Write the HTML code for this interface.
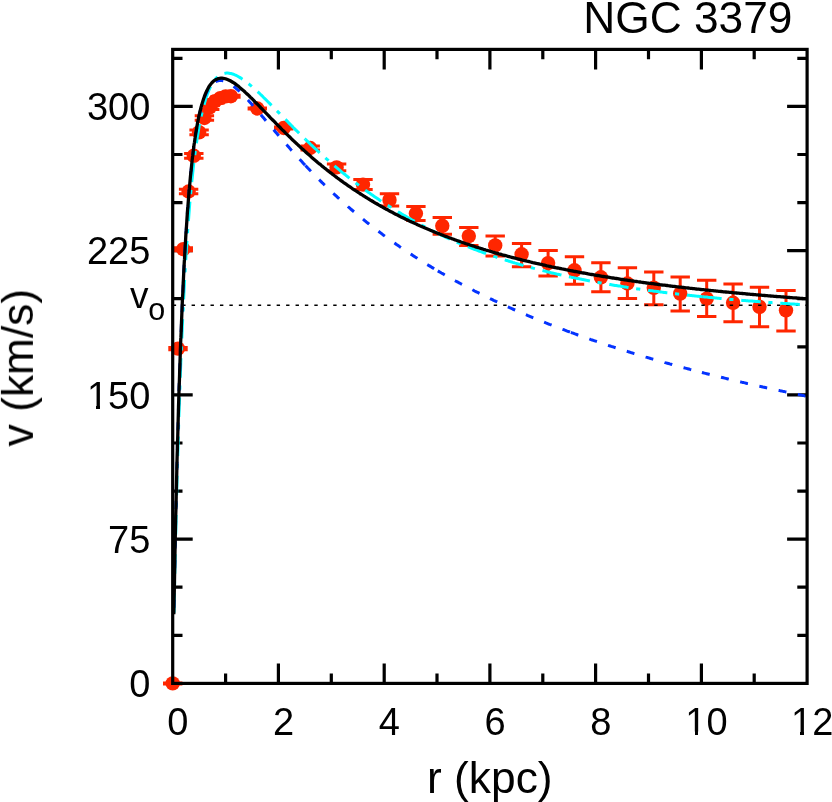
<!DOCTYPE html>
<html><head><meta charset="utf-8"><title>NGC 3379</title>
<style>html,body{margin:0;padding:0;background:#fff;}body{width:832px;height:802px;overflow:hidden;font-family:"Liberation Sans",sans-serif;}svg{display:block;}</style>
</head><body>
<svg width="832" height="802" viewBox="0 0 832 802">
<rect width="832" height="802" fill="#fff"/>
<path d="M225.6,683.4v-9.8M225.6,49.4v9.8M278.4,683.4v-20.0M278.4,49.4v20.0M331.3,683.4v-9.8M331.3,49.4v9.8M384.2,683.4v-20.0M384.2,49.4v20.0M437.0,683.4v-9.8M437.0,49.4v9.8M489.9,683.4v-20.0M489.9,49.4v20.0M542.8,683.4v-9.8M542.8,49.4v9.8M595.6,683.4v-20.0M595.6,49.4v20.0M648.5,683.4v-9.8M648.5,49.4v9.8M701.4,683.4v-20.0M701.4,49.4v20.0M754.2,683.4v-9.8M754.2,49.4v9.8M172.7,635.3h9.8M807.1,635.3h-9.8M172.7,587.2h9.8M807.1,587.2h-9.8M172.7,539.1h20.0M807.1,539.1h-20.0M172.7,491.1h9.8M807.1,491.1h-9.8M172.7,443.0h9.8M807.1,443.0h-9.8M172.7,394.9h20.0M807.1,394.9h-20.0M172.7,346.8h9.8M807.1,346.8h-9.8M172.7,298.7h9.8M807.1,298.7h-9.8M172.7,250.6h20.0M807.1,250.6h-20.0M172.7,202.6h9.8M807.1,202.6h-9.8M172.7,154.5h9.8M807.1,154.5h-9.8M172.7,106.4h20.0M807.1,106.4h-20.0M172.7,58.3h9.8M807.1,58.3h-9.8" stroke="#000" stroke-width="3.2" fill="none"/>
<g stroke="#ff2600" stroke-width="3" fill="#ff2600">
<path d="M172.7,682.9V683.9M163.0,682.9H182.4M163.0,683.9H182.4"/>
<circle cx="172.7" cy="683.4" r="7.2" stroke="none"/>
<path d="M178.0,347.4V349.8M168.3,347.4H187.7M168.3,349.8H187.7"/>
<circle cx="178.0" cy="348.6" r="7.2" stroke="none"/>
<path d="M183.3,247.7V250.7M173.6,247.7H193.0M173.6,250.7H193.0"/>
<circle cx="183.3" cy="249.2" r="7.2" stroke="none"/>
<path d="M188.6,189.3V193.7M178.9,189.3H198.3M178.9,193.7H198.3"/>
<circle cx="188.6" cy="191.5" r="7.2" stroke="none"/>
<path d="M193.8,153.4V158.2M184.1,153.4H203.5M184.1,158.2H203.5"/>
<circle cx="193.8" cy="155.8" r="7.2" stroke="none"/>
<path d="M199.1,129.9V134.7M189.4,129.9H208.8M189.4,134.7H208.8"/>
<circle cx="199.1" cy="132.3" r="7.2" stroke="none"/>
<path d="M204.4,115.7V120.3M194.7,115.7H214.1M194.7,120.3H214.1"/>
<circle cx="204.4" cy="118.0" r="7.2" stroke="none"/>
<path d="M209.7,105.4V109.4M200.0,105.4H219.4M200.0,109.4H219.4"/>
<circle cx="209.7" cy="107.4" r="7.2" stroke="none"/>
<path d="M215.0,99.4V103.0M205.3,99.4H224.7M205.3,103.0H224.7"/>
<circle cx="215.0" cy="101.2" r="7.2" stroke="none"/>
<path d="M220.3,96.6V99.6M210.6,96.6H230.0M210.6,99.6H230.0"/>
<circle cx="220.3" cy="98.1" r="7.2" stroke="none"/>
<path d="M225.6,95.2V97.6M215.9,95.2H235.3M215.9,97.6H235.3"/>
<circle cx="225.6" cy="96.4" r="7.2" stroke="none"/>
<path d="M230.9,95.2V97.2M221.2,95.2H240.6M221.2,97.2H240.6"/>
<circle cx="230.9" cy="96.2" r="7.2" stroke="none"/>
<path d="M257.3,108.1V108.9M247.6,108.1H267.0M247.6,108.9H267.0"/>
<circle cx="257.3" cy="108.5" r="7.2" stroke="none"/>
<path d="M283.7,127.0V129.0M274.0,127.0H293.4M274.0,129.0H293.4"/>
<circle cx="283.7" cy="128.0" r="7.2" stroke="none"/>
<path d="M310.2,145.9V150.1M300.5,145.9H319.9M300.5,150.1H319.9"/>
<circle cx="310.2" cy="148.0" r="7.2" stroke="none"/>
<path d="M336.6,164.0V170.8M326.9,164.0H346.3M326.9,170.8H346.3"/>
<circle cx="336.6" cy="167.4" r="7.2" stroke="none"/>
<path d="M363.0,179.5V189.6M353.3,179.5H372.7M353.3,189.6H372.7"/>
<circle cx="363.0" cy="184.6" r="7.2" stroke="none"/>
<path d="M389.5,193.8V206.0M379.8,193.8H399.2M379.8,206.0H399.2"/>
<circle cx="389.5" cy="199.9" r="7.2" stroke="none"/>
<path d="M415.9,206.5V220.4M406.2,206.5H425.6M406.2,220.4H425.6"/>
<circle cx="415.9" cy="213.5" r="7.2" stroke="none"/>
<path d="M442.3,217.4V234.2M432.6,217.4H452.0M432.6,234.2H452.0"/>
<circle cx="442.3" cy="225.8" r="7.2" stroke="none"/>
<path d="M468.8,227.4V245.4M459.1,227.4H478.5M459.1,245.4H478.5"/>
<circle cx="468.8" cy="236.1" r="7.2" stroke="none"/>
<path d="M495.2,236.1V256.1M485.5,236.1H504.9M485.5,256.1H504.9"/>
<circle cx="495.2" cy="245.4" r="7.2" stroke="none"/>
<path d="M521.6,243.6V266.8M511.9,243.6H531.3M511.9,266.8H531.3"/>
<circle cx="521.6" cy="254.3" r="7.2" stroke="none"/>
<path d="M548.1,250.6V276.0M538.4,250.6H557.8M538.4,276.0H557.8"/>
<circle cx="548.1" cy="263.1" r="7.2" stroke="none"/>
<path d="M574.5,256.8V284.3M564.8,256.8H584.2M564.8,284.3H584.2"/>
<circle cx="574.5" cy="270.3" r="7.2" stroke="none"/>
<path d="M600.9,262.8V291.7M591.2,262.8H610.6M591.2,291.7H610.6"/>
<circle cx="600.9" cy="277.3" r="7.2" stroke="none"/>
<path d="M627.4,267.8V298.5M617.7,267.8H637.1M617.7,298.5H637.1"/>
<circle cx="627.4" cy="283.5" r="7.2" stroke="none"/>
<path d="M653.8,271.9V304.8M644.1,271.9H663.5M644.1,304.8H663.5"/>
<circle cx="653.8" cy="287.8" r="7.2" stroke="none"/>
<path d="M680.2,276.9V311.0M670.5,276.9H689.9M670.5,311.0H689.9"/>
<circle cx="680.2" cy="293.6" r="7.2" stroke="none"/>
<path d="M706.7,280.3V316.5M697.0,280.3H716.4M697.0,316.5H716.4"/>
<circle cx="706.7" cy="298.6" r="7.2" stroke="none"/>
<path d="M733.1,284.1V321.7M723.4,284.1H742.8M723.4,321.7H742.8"/>
<circle cx="733.1" cy="302.8" r="7.2" stroke="none"/>
<path d="M759.5,287.3V326.7M749.8,287.3H769.2M749.8,326.7H769.2"/>
<circle cx="759.5" cy="306.8" r="7.2" stroke="none"/>
<path d="M786.0,290.6V331.0M776.3,290.6H795.7M776.3,331.0H795.7"/>
<circle cx="786.0" cy="310.3" r="7.2" stroke="none"/>
</g>
<path d="M172.70,305.2H304.87M304.87,305.2H437.03M437.03,305.2H569.20M569.20,305.2H701.37M701.37,305.2H807.10" stroke="#000" stroke-width="1.6" stroke-dasharray="3.4 6.05" fill="none"/>
<g fill="none" stroke-linejoin="round">
<path d="M174.0,614.6 L174.2,604.0 L174.4,593.6 L174.6,583.4 L174.8,573.4 L175.0,563.7 L175.2,557.4 L175.2,554.2 L175.4,544.8 L175.7,535.7 L175.9,526.8 L176.1,518.0 L176.3,509.5 L176.3,506.9 L176.5,501.1 L176.7,492.9 L176.9,484.9 L177.1,477.0 L177.3,469.3 L177.5,462.1 L177.6,461.8 L177.8,454.4 L178.0,447.2 L178.2,440.1 L178.4,433.2 L178.6,426.4 L178.7,422.3 L178.8,419.7 L179.0,413.2 L179.2,406.8 L179.5,400.5 L179.7,394.4 L179.9,388.4 L179.9,386.8 L180.1,382.5 L180.3,376.7 L180.5,371.0 L180.7,365.4 L180.9,360.0 L181.1,355.1 L181.2,354.6 L181.4,349.4 L181.6,344.2 L181.8,339.2 L182.0,334.3 L182.2,329.4 L182.3,326.7 L182.4,324.6 L182.6,320.0 L182.8,315.4 L183.1,310.9 L183.3,306.5 L183.5,302.1 L183.5,301.2 L183.7,297.9 L183.9,293.7 L184.1,289.6 L184.3,285.6 L184.5,281.6 L184.7,278.2 L184.7,277.8 L185.0,274.0 L185.2,270.2 L185.4,266.6 L185.6,263.0 L185.8,259.4 L185.9,257.6 L186.0,256.0 L186.2,252.6 L186.4,249.2 L186.7,245.9 L186.9,242.7 L187.1,239.5 L187.1,239.0 L187.3,236.4 L187.5,233.4 L187.7,230.4 L187.9,227.4 L188.1,224.5 L188.3,222.2 L188.3,221.7 L188.6,218.9 L188.8,216.1 L189.0,213.4 L189.2,210.8 L189.4,208.2 L189.5,207.0 L189.6,205.6 L189.8,203.1 L190.0,200.7 L190.2,198.2 L190.5,195.9 L190.7,193.5 L190.7,193.2 L190.9,191.2 L191.1,188.9 L191.3,186.7 L191.5,184.5 L191.7,182.4 L191.9,180.7 L191.9,180.3 L192.2,178.2 L192.4,176.2 L192.6,174.2 L192.8,172.2 L193.0,170.3 L193.1,169.4 L193.2,168.4 L193.4,166.5 L193.6,164.7 L193.8,162.9 L194.1,161.1 L194.3,159.4 L194.3,159.2 L194.5,157.7 L194.7,156.0 L194.9,154.3 L195.1,152.7 L195.3,151.1 L195.5,149.9 L195.5,149.5 L195.7,148.0 L196.0,146.5 L196.2,145.0 L196.4,143.5 L196.6,142.1 L196.7,141.5 L196.8,140.7 L197.0,139.3 L197.2,137.9 L197.4,136.6 L197.7,135.3 L197.9,134.0 L197.9,133.9 L198.1,132.7 L198.3,131.4 L198.5,130.2 L198.7,129.0 L198.9,127.8 L199.1,127.0 L199.1,126.6 L200.3,120.7 L201.5,115.0 L202.7,109.9 L203.9,105.3 L205.1,101.1 L206.2,97.3 L207.4,93.9 L208.6,90.9 L209.8,88.2 L211.0,85.8 L212.2,83.6 L213.4,81.7 L214.6,80.1 L215.8,78.6 L217.0,77.4 L218.2,76.3 L219.4,75.4 L220.6,74.7 L221.8,74.1 L223.0,73.7 L224.2,73.4 L225.4,73.2 L226.6,73.1 L227.8,73.1 L229.0,73.2 L230.2,73.4 L231.4,73.6 L232.6,74.0 L233.8,74.4 L234.9,74.9 L236.1,75.4 L237.3,76.0 L238.5,76.7 L239.7,77.4 L240.9,78.1 L242.1,78.9 L243.3,79.7 L244.5,80.6 L245.7,81.4 L246.9,82.4 L248.1,83.3 L249.3,84.3 L250.5,85.3 L251.7,86.3 L252.9,87.4 L254.1,88.4 L255.3,89.5 L256.5,90.6 L257.7,91.7 L258.9,92.8 L260.1,94.0 L261.3,95.1 L262.5,96.3 L263.6,97.5 L264.8,98.6 L266.0,99.8 L267.2,101.0 L268.4,102.2 L269.6,103.4 L270.8,104.6 L272.0,105.8 L273.2,107.0 L274.4,108.3 L275.6,109.5 L276.8,110.7 L278.0,111.9 L279.2,113.1 L280.4,114.3 L281.6,115.6 L282.8,116.8 L284.0,118.0 L285.2,119.2 L286.4,120.4 L287.6,121.6 L288.8,122.9 L290.0,124.1 L291.2,125.3 L292.3,126.5 L293.5,127.7 L294.7,128.9 L295.9,130.1 L297.1,131.2 L298.3,132.4 L299.5,133.6 L300.7,134.8 L301.9,136.0 L303.1,137.1 L304.3,138.3 L305.5,139.4" stroke="#00fdff" stroke-width="3" stroke-dasharray="19.5 7.7 4.2 7.8" stroke-dashoffset="37.41"/>
<path d="M305.5,139.4 L306.7,140.6 L307.9,141.7 L309.1,142.8 L310.2,144.0 L311.4,145.1 L312.6,146.2 L313.8,147.3 L315.0,148.4 L316.2,149.5 L317.3,150.6 L318.5,151.7 L319.7,152.8 L320.9,153.9 L322.1,154.9 L323.3,156.0 L324.5,157.1 L325.6,158.1 L326.8,159.2 L328.0,160.2 L329.2,161.3 L330.4,162.3 L331.6,163.3 L332.7,164.3 L333.9,165.4 L335.1,166.4 L336.3,167.4 L337.5,168.4 L338.7,169.4 L339.9,170.3 L341.0,171.3 L342.2,172.3 L343.4,173.3 L344.6,174.2 L345.8,175.2 L347.0,176.1 L348.1,177.1 L349.3,178.0 L350.5,178.9 L351.7,179.9 L352.9,180.8 L354.1,181.7 L355.3,182.6 L356.4,183.5 L357.6,184.4 L358.8,185.3 L360.0,186.2 L361.2,187.1 L362.4,188.0 L363.5,188.8 L364.7,189.7 L365.9,190.6 L367.1,191.4 L368.3,192.3 L369.5,193.1 L370.7,193.9 L371.8,194.8 L373.0,195.6 L374.2,196.4 L375.4,197.2 L376.6,198.0 L377.8,198.8 L378.9,199.6 L380.1,200.4 L381.3,201.2 L382.5,202.0 L383.7,202.8 L384.9,203.6 L386.1,204.3 L387.2,205.1 L388.4,205.8 L389.6,206.6 L390.8,207.3 L392.0,208.1 L393.2,208.8 L394.3,209.5 L395.5,210.3 L396.7,211.0 L397.9,211.7 L399.1,212.4 L400.3,213.1 L401.4,213.8 L402.6,214.5 L403.8,215.2 L405.0,215.9 L406.2,216.6 L407.4,217.3 L408.6,218.0 L409.7,218.6 L410.9,219.3 L412.1,220.0 L413.3,220.6 L414.5,221.3 L415.7,221.9 L416.8,222.6 L418.0,223.2 L419.2,223.9 L420.4,224.5 L421.6,225.2 L422.8,225.8 L424.0,226.4 L425.1,227.0 L426.3,227.7 L427.5,228.3 L428.7,228.9 L429.9,229.5 L431.1,230.1 L432.2,230.7 L433.4,231.3 L434.6,231.9 L435.8,232.4 L437.0,233.0 L438.2,233.6 L439.4,234.2 L440.5,234.7 L441.7,235.3 L442.9,235.9 L444.1,236.4 L445.3,237.0 L446.5,237.5 L447.6,238.1 L448.8,238.6 L450.0,239.1 L451.2,239.7 L452.4,240.2 L453.6,240.7 L454.8,241.2 L455.9,241.8 L457.1,242.3 L458.3,242.8 L459.5,243.3 L460.7,243.8 L461.9,244.3 L463.0,244.8 L464.2,245.3 L465.4,245.8 L466.6,246.2 L467.8,246.7 L469.0,247.2 L470.2,247.6 L471.3,248.1 L472.5,248.6 L473.7,249.0 L474.9,249.5 L476.1,249.9 L477.3,250.4 L478.4,250.8 L479.6,251.3 L480.8,251.7 L482.0,252.1 L483.2,252.6 L484.4,253.0 L485.6,253.4 L486.7,253.8 L487.9,254.2 L489.1,254.7 L490.3,255.1 L491.5,255.5 L492.7,255.9 L493.8,256.3 L495.0,256.7 L496.2,257.1 L497.4,257.5 L498.6,257.9 L499.8,258.3 L501.0,258.6 L502.1,259.0 L503.3,259.4 L504.5,259.8 L505.7,260.2 L506.9,260.5 L508.1,260.9 L509.2,261.3 L510.4,261.6 L511.6,262.0 L512.8,262.4 L514.0,262.7 L515.2,263.1 L516.3,263.4 L517.5,263.8 L518.7,264.1 L519.9,264.5 L521.1,264.8 L522.3,265.1 L523.5,265.5 L524.6,265.8 L525.8,266.1 L527.0,266.5 L528.2,266.8 L529.4,267.1 L530.6,267.4 L531.7,267.8 L532.9,268.1 L534.1,268.4 L535.3,268.7 L536.5,269.0 L537.7,269.3 L538.9,269.6 L540.0,269.9 L541.2,270.2 L542.4,270.5 L543.6,270.8 L544.8,271.1 L546.0,271.4 L547.1,271.7 L548.3,272.0 L549.5,272.3 L550.7,272.6 L551.9,272.9 L553.1,273.1 L554.3,273.4 L555.4,273.7 L556.6,274.0 L557.8,274.2 L559.0,274.5 L560.2,274.8 L561.4,275.0 L562.5,275.3 L563.7,275.6 L564.9,275.8 L566.1,276.1 L567.3,276.4 L568.5,276.6 L569.7,276.9 L570.8,277.1" stroke="#00fdff" stroke-width="3" stroke-dasharray="19.5 7.7 4.2 7.8" stroke-dashoffset="0.00"/>
<path d="M570.8,277.1 L572.0,277.4 L573.2,277.6 L574.4,277.9 L575.6,278.1 L576.8,278.4 L578.0,278.6 L579.2,278.8 L580.4,279.1 L581.6,279.3 L582.8,279.6 L584.0,279.8 L585.2,280.0 L586.4,280.3 L587.6,280.5 L588.7,280.7 L589.9,280.9 L591.1,281.2 L592.3,281.4 L593.5,281.6 L594.7,281.8 L595.9,282.1 L597.1,282.3 L598.3,282.5 L599.5,282.7 L600.7,282.9 L601.9,283.1 L603.1,283.3 L604.3,283.6 L605.5,283.8 L606.7,284.0 L607.8,284.2 L609.0,284.4 L610.2,284.6 L611.4,284.8 L612.6,285.0 L613.8,285.2 L615.0,285.4 L616.2,285.6 L617.4,285.8 L618.6,286.0 L619.8,286.1 L621.0,286.3 L622.2,286.5 L623.4,286.7 L624.6,286.9 L625.8,287.1 L626.9,287.3 L628.1,287.4 L629.3,287.6 L630.5,287.8 L631.7,288.0 L632.9,288.2 L634.1,288.3 L635.3,288.5 L636.5,288.7 L637.7,288.9 L638.9,289.0 L640.1,289.2 L641.3,289.4 L642.5,289.5 L643.7,289.7 L644.9,289.9 L646.0,290.0 L647.2,290.2 L648.4,290.4 L649.6,290.5 L650.8,290.7 L652.0,290.8 L653.2,291.0 L654.4,291.2 L655.6,291.3 L656.8,291.5 L658.0,291.6 L659.2,291.8 L660.4,291.9 L661.6,292.1 L662.8,292.2 L664.0,292.4 L665.2,292.5 L666.3,292.7 L667.5,292.8 L668.7,293.0 L669.9,293.1 L671.1,293.2 L672.3,293.4 L673.5,293.5 L674.7,293.7 L675.9,293.8 L677.1,293.9 L678.3,294.1 L679.5,294.2 L680.7,294.4 L681.9,294.5 L683.1,294.6 L684.3,294.8 L685.4,294.9 L686.6,295.0 L687.8,295.2 L689.0,295.3 L690.2,295.4 L691.4,295.5 L692.6,295.7 L693.8,295.8 L695.0,295.9 L696.2,296.1 L697.4,296.2 L698.6,296.3 L699.8,296.4 L701.0,296.5 L702.2,296.7" stroke="#00fdff" stroke-width="3" stroke-dasharray="19.5 7.7 4.2 7.8" stroke-dashoffset="0.00"/>
<path d="M702.2,296.7 L703.4,296.8 L704.5,296.9 L705.7,297.0 L706.9,297.1 L708.1,297.3 L709.3,297.4 L710.5,297.5 L711.7,297.6 L712.9,297.7 L714.1,297.8 L715.3,298.0 L716.5,298.1 L717.7,298.2 L718.9,298.3 L720.0,298.4 L721.2,298.5 L722.4,298.6 L723.6,298.7 L724.8,298.8 L726.0,298.9 L727.2,299.0 L728.4,299.2 L729.6,299.3 L730.8,299.4 L732.0,299.5 L733.2,299.6 L734.4,299.7 L735.5,299.8 L736.7,299.9 L737.9,300.0 L739.1,300.1 L740.3,300.2 L741.5,300.3 L742.7,300.4 L743.9,300.5 L745.1,300.6 L746.3,300.7 L747.5,300.8 L748.7,300.9 L749.9,301.0 L751.1,301.1 L752.2,301.1 L753.4,301.2 L754.6,301.3 L755.8,301.4 L757.0,301.5 L758.2,301.6 L759.4,301.7 L760.6,301.8 L761.8,301.9 L763.0,302.0 L764.2,302.1 L765.4,302.1 L766.6,302.2 L767.7,302.3 L768.9,302.4 L770.1,302.5 L771.3,302.6 L772.5,302.7 L773.7,302.7 L774.9,302.8 L776.1,302.9 L777.3,303.0 L778.5,303.1 L779.7,303.2 L780.9,303.2 L782.1,303.3 L783.2,303.4 L784.4,303.5 L785.6,303.6 L786.8,303.6 L788.0,303.7 L789.2,303.8 L790.4,303.9 L791.6,304.0 L792.8,304.0 L794.0,304.1 L795.2,304.2 L796.4,304.3 L797.6,304.3 L798.8,304.4 L799.9,304.5 L801.1,304.6 L802.3,304.6 L803.5,304.7 L804.7,304.8 L805.9,304.9 L807.1,304.9" stroke="#00fdff" stroke-width="3" stroke-dasharray="19.5 7.7 4.2 7.8" stroke-dashoffset="0.00"/>
<path d="M173.8,614.2 L174.0,602.2 L174.3,590.5 L174.5,579.1 L174.7,567.9 L174.9,557.1 L175.0,550.4 L175.1,546.5 L175.3,536.2 L175.5,526.1 L175.7,516.3 L176.0,506.7 L176.2,497.3 L176.2,495.0 L176.4,488.2 L176.6,479.3 L176.8,470.6 L177.0,462.1 L177.2,453.8 L177.4,446.7 L177.4,445.7 L177.7,437.8 L177.9,430.0 L178.1,422.5 L178.3,415.1 L178.5,407.9 L178.6,404.4 L178.7,400.9 L178.9,394.0 L179.1,387.3 L179.4,380.7 L179.6,374.3 L179.8,368.0 L179.8,367.2 L180.0,361.8 L180.2,355.8 L180.4,349.9 L180.6,344.2 L180.8,338.6 L181.0,334.5 L181.1,333.1 L181.3,327.7 L181.5,322.4 L181.7,317.3 L181.9,312.2 L182.1,307.3 L182.2,305.5 L182.3,302.5 L182.5,297.8 L182.8,293.1 L183.0,288.6 L183.2,284.2 L183.4,279.9 L183.4,279.8 L183.6,275.6 L183.8,271.4 L184.0,267.4 L184.2,263.4 L184.5,259.5 L184.6,257.1 L184.7,255.7 L184.9,251.9 L185.1,248.3 L185.3,244.7 L185.5,241.1 L185.7,237.7 L185.8,236.9 L185.9,234.3 L186.2,231.0 L186.4,227.8 L186.6,224.6 L186.8,221.5 L187.0,218.8 L187.0,218.4 L187.2,215.5 L187.4,212.5 L187.6,209.7 L187.9,206.9 L188.1,204.1 L188.2,202.8 L188.3,201.4 L188.5,198.8 L188.7,196.2 L188.9,193.6 L189.1,191.1 L189.4,188.7 L189.4,188.4 L189.6,186.3 L189.8,184.0 L190.0,181.7 L190.2,179.4 L190.4,177.2 L190.6,175.6 L190.6,175.0 L190.8,172.9 L191.1,170.8 L191.3,168.8 L191.5,166.8 L191.7,164.8 L191.8,164.1 L191.9,162.9 L192.1,161.0 L192.3,159.2 L192.5,157.4 L192.8,155.6 L193.0,153.9 L193.0,153.9 L193.2,152.2 L193.4,150.5 L193.6,148.8 L193.8,147.2 L194.0,145.7 L194.2,144.7 L194.2,144.1 L194.5,142.6 L194.7,141.1 L194.9,139.7 L195.1,138.2 L195.3,136.8 L195.4,136.5 L195.5,135.5 L195.7,134.1 L195.9,132.8 L196.2,131.5 L196.4,130.3 L196.6,129.2 L196.6,129.0 L196.8,127.8 L197.0,126.6 L197.2,125.4 L197.4,124.3 L197.6,123.2 L197.7,122.6 L197.9,122.1 L198.1,121.0 L198.3,119.9 L198.5,118.9 L198.7,117.9 L198.9,116.9 L198.9,116.8 L199.1,115.9 L200.1,111.6 L201.3,107.0 L202.5,102.9 L203.7,99.3 L204.9,96.1 L206.1,93.3 L207.3,90.8 L208.5,88.7 L209.7,86.9 L210.9,85.4 L212.1,84.1 L213.3,83.0 L214.5,82.1 L215.7,81.5 L216.9,81.0 L218.1,80.7 L219.3,80.5 L220.5,80.4 L221.7,80.5 L222.9,80.7 L224.1,81.0 L225.3,81.4 L226.5,81.9 L227.6,82.5 L228.8,83.1 L230.0,83.9 L231.2,84.6 L232.4,85.5 L233.6,86.4 L234.8,87.3 L236.0,88.3 L237.2,89.4 L238.4,90.4 L239.6,91.5 L240.8,92.7 L242.0,93.9 L243.2,95.1 L244.4,96.3 L245.6,97.5 L246.8,98.8 L248.0,100.1 L249.2,101.4 L250.4,102.7 L251.6,104.0 L252.8,105.4 L254.0,106.7 L255.2,108.1 L256.4,109.5 L257.6,110.9 L258.7,112.2 L259.9,113.6 L261.1,115.0 L262.3,116.4 L263.5,117.8 L264.7,119.2 L265.9,120.7 L267.1,122.1 L268.3,123.5 L269.5,124.9 L270.7,126.3 L271.9,127.7 L273.1,129.1 L274.3,130.5 L275.5,131.9 L276.7,133.3 L277.9,134.7 L279.1,136.1 L280.3,137.5 L281.5,138.9 L282.7,140.2 L283.9,141.6 L285.1,143.0 L286.3,144.4 L287.5,145.7 L288.7,147.1 L289.8,148.4 L291.0,149.8 L292.2,151.1 L293.4,152.4 L294.6,153.8 L295.8,155.1 L297.0,156.4 L298.2,157.7 L299.4,159.0 L300.6,160.3 L301.8,161.6 L303.0,162.9 L304.2,164.2 L305.4,165.5" stroke="#0433ff" stroke-width="3" stroke-dasharray="8.0 11.7" stroke-dashoffset="13.13"/>
<path d="M305.4,165.5 L306.6,166.7 L307.8,168.0 L309.0,169.2 L310.2,170.5 L311.4,171.7 L312.6,172.9 L313.7,174.2 L314.9,175.4 L316.1,176.6 L317.3,177.8 L318.5,179.0 L319.7,180.2 L320.9,181.4 L322.1,182.6 L323.3,183.7 L324.5,184.9 L325.7,186.0 L326.9,187.2 L328.1,188.3 L329.3,189.5 L330.4,190.6 L331.6,191.8 L332.8,192.9 L334.0,194.0 L335.2,195.1 L336.4,196.2 L337.6,197.3 L338.8,198.4 L340.0,199.5 L341.2,200.5 L342.4,201.6 L343.6,202.7 L344.8,203.7 L346.0,204.8 L347.2,205.8 L348.3,206.9 L349.5,207.9 L350.7,209.0 L351.9,210.0 L353.1,211.0 L354.3,212.0 L355.5,213.0 L356.7,214.0 L357.9,215.0 L359.1,216.0 L360.3,217.0 L361.5,218.0 L362.7,218.9 L363.9,219.9 L365.0,220.9 L366.2,221.8 L367.4,222.8 L368.6,223.7 L369.8,224.7 L371.0,225.6 L372.2,226.6 L373.4,227.5 L374.6,228.4 L375.8,229.3 L377.0,230.2 L378.2,231.1 L379.4,232.0 L380.6,232.9 L381.8,233.8 L382.9,234.7 L384.1,235.6 L385.3,236.5 L386.5,237.3 L387.7,238.2 L388.9,239.1 L390.1,239.9 L391.3,240.8 L392.5,241.6 L393.7,242.5 L394.9,243.3 L396.1,244.2 L397.3,245.0 L398.5,245.8 L399.6,246.6 L400.8,247.5 L402.0,248.3 L403.2,249.1 L404.4,249.9 L405.6,250.7 L406.8,251.5 L408.0,252.3 L409.2,253.1 L410.4,253.9 L411.6,254.6 L412.8,255.4 L414.0,256.2 L415.2,257.0 L416.4,257.7 L417.5,258.5 L418.7,259.3 L419.9,260.0 L421.1,260.8 L422.3,261.5 L423.5,262.3 L424.7,263.0 L425.9,263.7 L427.1,264.5 L428.3,265.2 L429.5,265.9 L430.7,266.6 L431.9,267.4 L433.1,268.1 L434.2,268.8 L435.4,269.5 L436.6,270.2 L437.8,270.9" stroke="#0433ff" stroke-width="3" stroke-dasharray="8.0 11.7" stroke-dashoffset="0.00"/>
<path d="M437.8,270.9 L439.0,271.6 L440.2,272.3 L441.4,273.0 L442.6,273.6 L443.8,274.3 L444.9,275.0 L446.1,275.7 L447.3,276.3 L448.5,277.0 L449.7,277.7 L450.9,278.3 L452.1,279.0 L453.3,279.7 L454.4,280.3 L455.6,281.0 L456.8,281.6 L458.0,282.2 L459.2,282.9 L460.4,283.5 L461.6,284.2 L462.8,284.8 L463.9,285.4 L465.1,286.0 L466.3,286.7 L467.5,287.3 L468.7,287.9 L469.9,288.5 L471.1,289.1 L472.3,289.7 L473.4,290.3 L474.6,291.0 L475.8,291.6 L477.0,292.2 L478.2,292.7 L479.4,293.3 L480.6,293.9 L481.8,294.5 L482.9,295.1 L484.1,295.7 L485.3,296.3 L486.5,296.8 L487.7,297.4 L488.9,298.0 L490.1,298.6 L491.2,299.1 L492.4,299.7 L493.6,300.3 L494.8,300.8 L496.0,301.4 L497.2,301.9 L498.4,302.5 L499.6,303.0 L500.7,303.6 L501.9,304.1 L503.1,304.7 L504.3,305.2 L505.5,305.8 L506.7,306.3 L507.9,306.8 L509.1,307.4 L510.2,307.9 L511.4,308.4 L512.6,309.0 L513.8,309.5 L515.0,310.0 L516.2,310.5 L517.4,311.0 L518.6,311.6 L519.7,312.1 L520.9,312.6 L522.1,313.1 L523.3,313.6 L524.5,314.1 L525.7,314.6 L526.9,315.1 L528.0,315.6 L529.2,316.1 L530.4,316.6 L531.6,317.1 L532.8,317.6 L534.0,318.1 L535.2,318.6 L536.4,319.1 L537.5,319.5 L538.7,320.0 L539.9,320.5 L541.1,321.0 L542.3,321.5 L543.5,321.9 L544.7,322.4 L545.9,322.9 L547.0,323.3 L548.2,323.8 L549.4,324.3 L550.6,324.7 L551.8,325.2 L553.0,325.7 L554.2,326.1 L555.4,326.6 L556.5,327.0 L557.7,327.5 L558.9,327.9 L560.1,328.4 L561.3,328.8 L562.5,329.3 L563.7,329.7 L564.9,330.2 L566.0,330.6 L567.2,331.1 L568.4,331.5 L569.6,331.9 L570.8,332.4" stroke="#0433ff" stroke-width="3" stroke-dasharray="8.0 11.7" stroke-dashoffset="0.00"/>
<path d="M570.8,332.4 L572.0,332.8 L573.2,333.2 L574.4,333.7 L575.6,334.1 L576.7,334.5 L577.9,335.0 L579.1,335.4 L580.3,335.8 L581.5,336.2 L582.7,336.7 L583.9,337.1 L585.1,337.5 L586.3,337.9 L587.5,338.3 L588.7,338.7 L589.9,339.2 L591.0,339.6 L592.2,340.0 L593.4,340.4 L594.6,340.8 L595.8,341.2 L597.0,341.6 L598.2,342.0 L599.4,342.4 L600.6,342.8 L601.8,343.2 L603.0,343.6 L604.2,344.0 L605.4,344.4 L606.5,344.8 L607.7,345.2 L608.9,345.6 L610.1,346.0 L611.3,346.4 L612.5,346.7 L613.7,347.1 L614.9,347.5 L616.1,347.9 L617.3,348.3 L618.5,348.7 L619.7,349.0 L620.8,349.4 L622.0,349.8 L623.2,350.2 L624.4,350.5 L625.6,350.9 L626.8,351.3 L628.0,351.6 L629.2,352.0 L630.4,352.4 L631.6,352.8 L632.8,353.1 L634.0,353.5 L635.1,353.8 L636.3,354.2 L637.5,354.6 L638.7,354.9 L639.9,355.3 L641.1,355.6 L642.3,356.0 L643.5,356.4 L644.7,356.7 L645.9,357.1 L647.1,357.4 L648.3,357.8 L649.5,358.1 L650.6,358.5 L651.8,358.8 L653.0,359.2 L654.2,359.5 L655.4,359.8 L656.6,360.2 L657.8,360.5 L659.0,360.9 L660.2,361.2 L661.4,361.5 L662.6,361.9 L663.8,362.2 L664.9,362.6 L666.1,362.9 L667.3,363.2 L668.5,363.5 L669.7,363.9 L670.9,364.2 L672.1,364.5 L673.3,364.9 L674.5,365.2 L675.7,365.5 L676.9,365.8 L678.1,366.2 L679.2,366.5 L680.4,366.8 L681.6,367.1 L682.8,367.5 L684.0,367.8 L685.2,368.1 L686.4,368.4 L687.6,368.7 L688.8,369.0 L690.0,369.4 L691.2,369.7 L692.4,370.0 L693.6,370.3 L694.7,370.6 L695.9,370.9 L697.1,371.2 L698.3,371.5 L699.5,371.8 L700.7,372.1 L701.9,372.5" stroke="#0433ff" stroke-width="3" stroke-dasharray="8.0 11.7" stroke-dashoffset="0.00"/>
<path d="M701.9,372.5 L703.1,372.8 L704.3,373.1 L705.5,373.4 L706.7,373.7 L707.9,374.0 L709.1,374.3 L710.3,374.6 L711.5,374.9 L712.7,375.2 L713.9,375.5 L715.0,375.8 L716.2,376.1 L717.4,376.4 L718.6,376.7 L719.8,376.9 L721.0,377.2 L722.2,377.5 L723.4,377.8 L724.6,378.1 L725.8,378.4 L727.0,378.7 L728.2,379.0 L729.4,379.3 L730.6,379.5 L731.8,379.8 L733.0,380.1 L734.2,380.4 L735.4,380.7 L736.6,381.0 L737.8,381.2 L739.0,381.5 L740.2,381.8 L741.3,382.1 L742.5,382.4 L743.7,382.6 L744.9,382.9 L746.1,383.2 L747.3,383.5 L748.5,383.7 L749.7,384.0 L750.9,384.3 L752.1,384.6 L753.3,384.8 L754.5,385.1 L755.7,385.4 L756.9,385.6 L758.1,385.9 L759.3,386.2 L760.5,386.4 L761.7,386.7 L762.9,387.0 L764.1,387.2 L765.3,387.5 L766.5,387.8 L767.6,388.0 L768.8,388.3 L770.0,388.6 L771.2,388.8 L772.4,389.1 L773.6,389.3 L774.8,389.6 L776.0,389.9 L777.2,390.1 L778.4,390.4 L779.6,390.6 L780.8,390.9 L782.0,391.1 L783.2,391.4 L784.4,391.6 L785.6,391.9 L786.8,392.1 L788.0,392.4 L789.2,392.7 L790.4,392.9 L791.6,393.2 L792.8,393.4 L793.9,393.6 L795.1,393.9 L796.3,394.1 L797.5,394.4 L798.7,394.6 L799.9,394.9 L801.1,395.1 L802.3,395.4 L803.5,395.6 L804.7,395.9 L805.9,396.1 L807.1,396.3" stroke="#0433ff" stroke-width="3" stroke-dasharray="8.0 11.7" stroke-dashoffset="0.00"/>
<path d="M173.8,614.2 L174.0,602.2 L174.3,590.5 L174.5,579.1 L174.7,567.9 L174.9,557.1 L175.0,551.4 L175.1,546.5 L175.3,536.2 L175.5,526.1 L175.7,516.3 L176.0,506.7 L176.2,497.3 L176.2,496.7 L176.4,488.2 L176.6,479.3 L176.8,470.6 L177.0,462.1 L177.2,453.8 L177.4,448.9 L177.4,445.7 L177.7,437.8 L177.9,430.0 L178.1,422.5 L178.3,415.1 L178.5,407.9 L178.5,406.9 L178.7,400.9 L178.9,394.0 L179.1,387.2 L179.4,380.7 L179.6,374.2 L179.7,370.0 L179.8,367.9 L180.0,361.8 L180.2,355.8 L180.4,349.9 L180.6,344.2 L180.8,338.5 L180.9,337.4 L181.1,333.0 L181.3,327.7 L181.5,322.4 L181.7,317.2 L181.9,312.2 L182.1,308.5 L182.1,307.3 L182.3,302.4 L182.5,297.7 L182.8,293.1 L183.0,288.5 L183.2,284.1 L183.2,282.9 L183.4,279.8 L183.6,275.5 L183.8,271.4 L184.0,267.3 L184.2,263.3 L184.4,260.1 L184.5,259.4 L184.7,255.6 L184.9,251.8 L185.1,248.1 L185.3,244.5 L185.5,241.0 L185.6,239.8 L185.7,237.6 L185.9,234.2 L186.2,230.9 L186.4,227.6 L186.6,224.5 L186.8,221.7 L186.8,221.3 L187.0,218.3 L187.2,215.3 L187.4,212.4 L187.6,209.5 L187.9,206.7 L188.0,205.5 L188.1,203.9 L188.3,201.2 L188.5,198.6 L188.7,196.0 L188.9,193.4 L189.1,191.0 L189.1,190.9 L189.4,188.5 L189.6,186.1 L189.8,183.7 L190.0,181.4 L190.2,179.1 L190.3,178.1 L190.4,176.9 L190.6,174.8 L190.8,172.6 L191.1,170.5 L191.3,168.5 L191.5,166.5 L191.5,166.4 L191.7,164.5 L191.9,162.6 L192.1,160.7 L192.3,158.8 L192.5,157.0 L192.7,156.0 L192.8,155.2 L193.0,153.5 L193.2,151.8 L193.4,150.1 L193.6,148.4 L193.8,146.8 L193.8,146.7 L194.0,145.2 L194.2,143.7 L194.5,142.2 L194.7,140.7 L194.9,139.2 L195.0,138.3 L195.1,137.8 L195.3,136.4 L195.5,135.0 L195.7,133.6 L195.9,132.3 L196.2,131.0 L196.2,130.8 L196.4,129.7 L196.6,128.5 L196.8,127.3 L197.0,126.1 L197.2,124.9 L197.4,124.1 L197.4,123.7 L197.6,122.6 L197.9,121.5 L198.1,120.4 L198.3,119.3 L198.5,118.3 L198.5,118.0 L198.7,117.3 L198.9,116.3 L199.1,115.3 L199.7,112.7 L200.9,107.8 L202.1,103.6 L203.3,99.7 L204.4,96.4 L205.6,93.4 L206.8,90.7 L208.0,88.4 L209.1,86.4 L210.3,84.7 L211.5,83.2 L212.7,82.0 L213.8,80.9 L215.0,80.1 L216.2,79.4 L217.4,78.9 L218.6,78.5 L219.7,78.3 L220.9,78.2 L222.1,78.2 L223.3,78.3 L224.4,78.5 L225.6,78.8 L226.8,79.2 L228.0,79.7 L229.1,80.2 L230.3,80.8 L231.5,81.5 L232.7,82.2 L233.9,82.9 L235.0,83.7 L236.2,84.6 L237.4,85.5 L238.6,86.4 L239.7,87.4 L240.9,88.4 L242.1,89.4 L243.3,90.4 L244.5,91.5 L245.6,92.6 L246.8,93.7 L248.0,94.8 L249.2,95.9 L250.3,97.1 L251.5,98.2 L252.7,99.4 L253.9,100.6 L255.0,101.8 L256.2,103.0 L257.4,104.2 L258.6,105.4 L259.8,106.6 L260.9,107.8 L262.1,109.0 L263.3,110.3 L264.5,111.5 L265.6,112.7 L266.8,113.9 L268.0,115.1 L269.2,116.4 L270.3,117.6 L271.5,118.8 L272.7,120.0 L273.9,121.2 L275.1,122.4 L276.2,123.6 L277.4,124.8 L278.6,126.0 L279.8,127.2 L280.9,128.4 L282.1,129.6 L283.3,130.7 L284.5,131.9 L285.6,133.1 L286.8,134.2 L288.0,135.4 L289.2,136.5 L290.4,137.7 L291.5,138.8 L292.7,140.0 L293.9,141.1 L295.1,142.2 L296.2,143.3 L297.4,144.4 L298.6,145.5 L299.8,146.6 L301.0,147.7 L302.1,148.8 L303.3,149.8 L304.5,150.9 L305.7,152.0 L306.8,153.0 L308.0,154.1 L309.2,155.1 L310.4,156.1 L311.5,157.2 L312.7,158.2 L313.9,159.2 L315.1,160.2 L316.3,161.2 L317.4,162.2 L318.6,163.2 L319.8,164.1 L321.0,165.1 L322.1,166.1 L323.3,167.0 L324.5,168.0 L325.7,168.9 L326.8,169.9 L328.0,170.8 L329.2,171.7 L330.4,172.6 L331.6,173.5 L332.7,174.4 L333.9,175.3 L335.1,176.2 L336.3,177.1 L337.4,178.0 L338.6,178.8 L339.8,179.7 L341.0,180.6 L342.1,181.4 L343.3,182.3 L344.5,183.1 L345.7,183.9 L346.9,184.8 L348.0,185.6 L349.2,186.4 L350.4,187.2 L351.6,188.0 L352.7,188.8 L353.9,189.6 L355.1,190.4 L356.3,191.1 L357.5,191.9 L358.6,192.7 L359.8,193.5 L361.0,194.2 L362.2,195.0 L363.3,195.7 L364.5,196.4 L365.7,197.2 L366.9,197.9 L368.0,198.6 L369.2,199.3 L370.4,200.1 L371.6,200.8 L372.8,201.5 L373.9,202.2 L375.1,202.9 L376.3,203.5 L377.5,204.2 L378.6,204.9 L379.8,205.6 L381.0,206.2 L382.2,206.9 L383.3,207.6 L384.5,208.2 L385.7,208.9 L386.9,209.5 L388.1,210.1 L389.2,210.8 L390.4,211.4 L391.6,212.0 L392.8,212.6 L393.9,213.3 L395.1,213.9 L396.3,214.5 L397.5,215.1 L398.7,215.7 L399.8,216.3 L401.0,216.9 L402.2,217.4 L403.4,218.0 L404.5,218.6 L405.7,219.2 L406.9,219.7 L408.1,220.3 L409.2,220.9 L410.4,221.4 L411.6,222.0 L412.8,222.5 L414.0,223.1 L415.1,223.6 L416.3,224.1 L417.5,224.7 L418.7,225.2 L419.8,225.7 L421.0,226.2 L422.2,226.8 L423.4,227.3 L424.5,227.8 L425.7,228.3 L426.9,228.8 L428.1,229.3 L429.3,229.8 L430.4,230.3 L431.6,230.8 L432.8,231.3 L434.0,231.7 L435.1,232.2 L436.3,232.7 L437.5,233.2 L438.7,233.6 L439.8,234.1 L441.0,234.6 L442.2,235.0 L443.4,235.5 L444.6,235.9 L445.7,236.4 L446.9,236.8 L448.1,237.3 L449.3,237.7 L450.4,238.1 L451.6,238.6 L452.8,239.0 L454.0,239.4 L455.2,239.9 L456.3,240.3 L457.5,240.7 L458.7,241.1 L459.9,241.5 L461.0,242.0 L462.2,242.4 L463.4,242.8 L464.6,243.2 L465.7,243.6 L466.9,244.0 L468.1,244.4 L469.3,244.8 L470.5,245.2 L471.6,245.5 L472.8,245.9 L474.0,246.3 L475.2,246.7 L476.3,247.1 L477.5,247.4 L478.7,247.8 L479.9,248.2 L481.0,248.5 L482.2,248.9 L483.4,249.3 L484.6,249.6 L485.8,250.0 L486.9,250.3 L488.1,250.7 L489.3,251.0 L490.5,251.4 L491.6,251.7 L492.8,252.1 L494.0,252.4 L495.2,252.8 L496.3,253.1 L497.5,253.4 L498.7,253.8 L499.9,254.1 L501.1,254.4 L502.2,254.8 L503.4,255.1 L504.6,255.4 L505.8,255.7 L506.9,256.0 L508.1,256.4 L509.3,256.7 L510.5,257.0 L511.7,257.3 L512.8,257.6 L514.0,257.9 L515.2,258.2 L516.4,258.5 L517.5,258.8 L518.7,259.1 L519.9,259.4 L521.1,259.7 L522.2,260.0 L523.4,260.3 L524.6,260.6 L525.8,260.9 L527.0,261.2 L528.1,261.4 L529.3,261.7 L530.5,262.0 L531.7,262.3 L532.8,262.6 L534.0,262.8 L535.2,263.1 L536.4,263.4 L537.5,263.6 L538.7,263.9 L539.9,264.2 L541.1,264.4 L542.3,264.7 L543.4,265.0 L544.6,265.2 L545.8,265.5 L547.0,265.8 L548.1,266.0 L549.3,266.3 L550.5,266.5 L551.7,266.8 L552.8,267.0 L554.0,267.3 L555.2,267.5 L556.4,267.8 L557.6,268.0 L558.7,268.2 L559.9,268.5 L561.1,268.7 L562.3,269.0 L563.4,269.2 L564.6,269.4 L565.8,269.7 L567.0,269.9 L568.2,270.1 L569.3,270.4 L570.5,270.6 L571.7,270.8 L572.9,271.0 L574.0,271.3 L575.2,271.5 L576.4,271.7 L577.6,271.9 L578.7,272.1 L579.9,272.4 L581.1,272.6 L582.3,272.8 L583.5,273.0 L584.6,273.2 L585.8,273.4 L587.0,273.6 L588.2,273.9 L589.3,274.1 L590.5,274.3 L591.7,274.5 L592.9,274.7 L594.0,274.9 L595.2,275.1 L596.4,275.3 L597.6,275.5 L598.8,275.7 L599.9,275.9 L601.1,276.1 L602.3,276.3 L603.5,276.5 L604.6,276.7 L605.8,276.9 L607.0,277.0 L608.2,277.2 L609.3,277.4 L610.5,277.6 L611.7,277.8 L612.9,278.0 L614.1,278.2 L615.2,278.4 L616.4,278.5 L617.6,278.7 L618.8,278.9 L619.9,279.1 L621.1,279.3 L622.3,279.4 L623.5,279.6 L624.7,279.8 L625.8,280.0 L627.0,280.1 L628.2,280.3 L629.4,280.5 L630.5,280.7 L631.7,280.8 L632.9,281.0 L634.1,281.2 L635.2,281.3 L636.4,281.5 L637.6,281.7 L638.8,281.8 L640.0,282.0 L641.1,282.2 L642.3,282.3 L643.5,282.5 L644.7,282.6 L645.8,282.8 L647.0,283.0 L648.2,283.1 L649.4,283.3 L650.5,283.4 L651.7,283.6 L652.9,283.7 L654.1,283.9 L655.3,284.0 L656.4,284.2 L657.6,284.4 L658.8,284.5 L660.0,284.7 L661.1,284.8 L662.3,285.0 L663.5,285.1 L664.7,285.2 L665.8,285.4 L667.0,285.5 L668.2,285.7 L669.4,285.8 L670.6,286.0 L671.7,286.1 L672.9,286.3 L674.1,286.4 L675.3,286.5 L676.4,286.7 L677.6,286.8 L678.8,287.0 L680.0,287.1 L681.2,287.2 L682.3,287.4 L683.5,287.5 L684.7,287.6 L685.9,287.8 L687.0,287.9 L688.2,288.0 L689.4,288.2 L690.6,288.3 L691.7,288.4 L692.9,288.6 L694.1,288.7 L695.3,288.8 L696.5,289.0 L697.6,289.1 L698.8,289.2 L700.0,289.3 L701.2,289.5 L702.3,289.6 L703.5,289.7 L704.7,289.8 L705.9,290.0 L707.0,290.1 L708.2,290.2 L709.4,290.3 L710.6,290.5 L711.8,290.6 L712.9,290.7 L714.1,290.8 L715.3,290.9 L716.5,291.1 L717.6,291.2 L718.8,291.3 L720.0,291.4 L721.2,291.5 L722.3,291.6 L723.5,291.8 L724.7,291.9 L725.9,292.0 L727.1,292.1 L728.2,292.2 L729.4,292.3 L730.6,292.4 L731.8,292.5 L732.9,292.7 L734.1,292.8 L735.3,292.9 L736.5,293.0 L737.7,293.1 L738.8,293.2 L740.0,293.3 L741.2,293.4 L742.4,293.5 L743.5,293.6 L744.7,293.7 L745.9,293.9 L747.1,294.0 L748.2,294.1 L749.4,294.2 L750.6,294.3 L751.8,294.4 L753.0,294.5 L754.1,294.6 L755.3,294.7 L756.5,294.8 L757.7,294.9 L758.8,295.0 L760.0,295.1 L761.2,295.2 L762.4,295.3 L763.5,295.4 L764.7,295.5 L765.9,295.6 L767.1,295.7 L768.3,295.8 L769.4,295.9 L770.6,296.0 L771.8,296.1 L773.0,296.2 L774.1,296.3 L775.3,296.4 L776.5,296.5 L777.7,296.6 L778.8,296.7 L780.0,296.7 L781.2,296.8 L782.4,296.9 L783.6,297.0 L784.7,297.1 L785.9,297.2 L787.1,297.3 L788.3,297.4 L789.4,297.5 L790.6,297.6 L791.8,297.7 L793.0,297.8 L794.2,297.9 L795.3,297.9 L796.5,298.0 L797.7,298.1 L798.9,298.2 L800.0,298.3 L801.2,298.4 L802.4,298.5 L803.6,298.6 L804.7,298.6 L805.9,298.7 L807.1,298.8" stroke="#000" stroke-width="3.3"/>
</g>
<rect x="172.7" y="49.4" width="634.4" height="634.0" stroke="#000" stroke-width="3.2" fill="none"/>
<g font-family="'Liberation Sans', sans-serif" fill="#000" style="opacity:0.999">
<g font-size="38px" text-anchor="end">
<text x="150.3" y="697.0">0</text>
<text x="150.3" y="552.8">75</text>
<text x="150.3" y="408.5">150</text>
<text x="150.3" y="264.2">225</text>
<text x="150.3" y="120.0">300</text>
</g>
<g font-size="38px" text-anchor="middle">
<text x="177.8" y="734.5">0</text>
<text x="283.5" y="734.5">2</text>
<text x="389.3" y="734.5">4</text>
<text x="495.0" y="734.5">6</text>
<text x="600.7" y="734.5">8</text>
<text x="706.5" y="734.5">10</text>
<text x="812.2" y="734.5">12</text>
</g>
<text x="792.5" y="33.1" font-size="44.3px" text-anchor="end">NGC 3379</text>
<text x="489.8" y="792.6" font-size="44.3px" text-anchor="middle">r (kpc)</text>
<text transform="translate(32.9,367.6) rotate(-90)" font-size="44.3px" text-anchor="middle">v (km/s)</text>
<text x="129.9" y="308" font-size="37px">v</text>
<text x="148.2" y="320" font-size="30.5px">o</text>
</g>
<path fill="#fff" d="M89,405.4h7v4.4h-7zM100,405.4h7v4.4h-7zM687,731.4h8v4.4h-8zM698,731.4h7.5v4.4h-7.5zM793,731.4h7v4.4h-7zM804,731.4h7.5v4.4h-7.5z"/>
</svg>
</body></html>
